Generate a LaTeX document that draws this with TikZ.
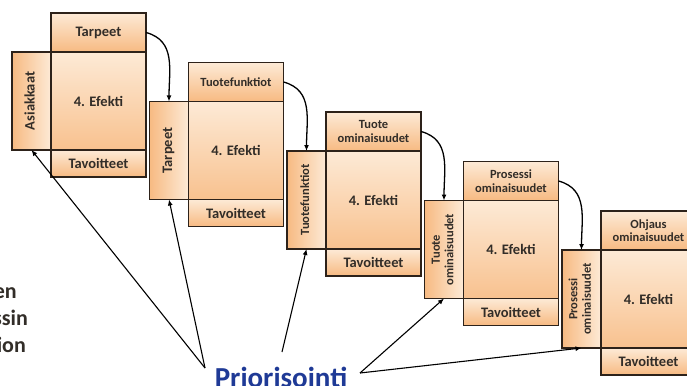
\documentclass[tikz,border=0pt]{standalone}
\usepackage{fontspec}
\setmainfont{Carlito}
\usetikzlibrary{positioning,arrows.meta}
\definecolor{peachlight}{RGB}{253,234,214}
\definecolor{peachdark}{RGB}{247,186,130}
\definecolor{boxline}{RGB}{45,34,26}
\definecolor{prioblue}{RGB}{31,58,150}
\definecolor{textgrey}{RGB}{50,45,40}
\newcommand{\bigfont}{\fontsize{14.5}{15}\selectfont}
\newcommand{\smallfont}{\fontsize{12.5}{13.5}\selectfont}
\newcommand{\sidetext}[1]{\rotatebox{90}{\begin{tabular}{@{}c@{}}#1\end{tabular}}}
\tikzset{
  qfdbox/.style={draw=boxline, line width=1.5pt, inner sep=0pt, outer sep=0pt, align=center, text=textgrey, font=\bfseries\bigfont},
  topbox/.style={qfdbox, top color=peachlight, bottom color=peachdark, minimum width=95pt, minimum height=39pt},
  effbox/.style={qfdbox, top color=peachlight, bottom color=peachdark!85!peachlight, minimum width=95pt, minimum height=98pt},
  sidebox/.style={qfdbox, left color=peachdark, right color=peachlight, minimum width=39pt, minimum height=98pt},
  goalbox/.style={qfdbox, top color=peachlight, bottom color=peachdark, minimum width=95pt, minimum height=27pt},
  linkarrow/.style={-{Latex[length=6pt,width=5pt]}, line width=1.3pt},
  prioarrow/.style={-{Latex[length=6pt,width=5pt]}, line width=1.1pt},
  cuttext/.style={font=\bfseries\fontsize{22}{24}\selectfont, text=textgrey, inner sep=0pt, anchor=base east}
}

\begin{document}
\begin{tikzpicture}[x=1pt, y=1pt, >=Latex]
  \useasboundingbox (0,0) rectangle (687,-385);
  \clip (0,0) rectangle (687,-385);
  \fill[white] (0,0) rectangle (687,-385);

  % five houses, each one step right and down
  \foreach \i/\sidelabel/\sidefont/\toplabel/\topfont
    [evaluate=\i as \ox using 12+137.5*(\i-1), evaluate=\i as \oy using -52-49.5*(\i-1)] in {
      1/{Asiakkaat}/\bigfont/{Tarpeet}/\bigfont,
      2/{Tarpeet}/\bigfont/{Tuotefunktiot}/\smallfont,
      3/{Tuotefunktiot}/\smallfont/{Tuote\\ominaisuudet}/\smallfont,
      4/{Tuote\\ominaisuudet}/\smallfont/{Prosessi\\ominaisuudet}/\smallfont,
      5/{Prosessi\\ominaisuudet}/\smallfont/{Ohjaus\\ominaisuudet}/\smallfont}
  {
    \node[sidebox, anchor=north west] (side\i) at (\ox,\oy) {\sidefont\sidetext{\sidelabel}};
    \node[effbox, anchor=north west] (eff\i) at (side\i.north east) {4. Efekti};
    \node[topbox, font=\bfseries\topfont, above=0pt of eff\i] (top\i) {\toplabel};
    \node[goalbox, below=0pt of eff\i] (goal\i) {Tavoitteet};
  }

  % what comes out of one house goes into the next
  \foreach \i [evaluate=\i as \j using int(\i+1)] in {1,...,4}
    \draw[linkarrow] (top\i.east) to[out=-15, in=90, looseness=1.1] (side\j.north);

  \node[font=\bfseries\fontsize{29}{30}\selectfont, text=prioblue, inner sep=0pt, anchor=base] (prio) at (281,-387) {Priorisointi};
  \coordinate (p1) at (205,-368);
  \coordinate (p2) at (282,-352);
  \coordinate (p3) at (360,-373);
  \draw[prioarrow] (p1) -- (side1.south);
  \draw[prioarrow] (p1) -- (side2.south);
  \draw[prioarrow] (p2) -- (side3.south);
  \draw[prioarrow] (p3) -- (side4.south);
  \draw[prioarrow] (p3) -- (side5.south);

  % text cut off at the left edge
  \node[cuttext] (line1) at (17,-298) {en};
  \node[cuttext] (line2) at (28,-325) {ssin};
  \node[cuttext] (line3) at (26,-352) {ion};
\end{tikzpicture}
\end{document}
